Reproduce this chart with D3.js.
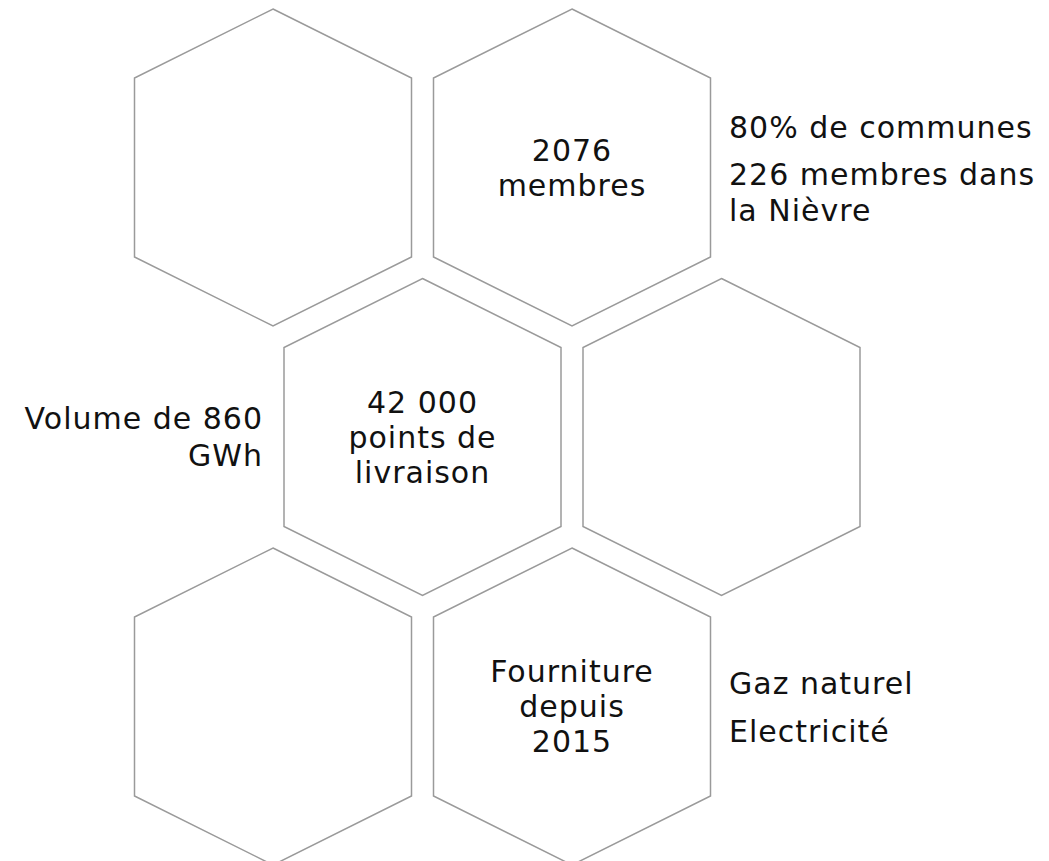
<!DOCTYPE html>
<html>
<head>
<meta charset="utf-8">
<script src="https://cdn.jsdelivr.net/npm/d3@7/dist/d3.min.js"></script>
<style>
  html, body { margin: 0; padding: 0; background: #ffffff; }
  svg { display: block; }
  text { font-family: "DejaVu Sans", Verdana, sans-serif; fill: #111111; }
</style>
</head>
<body>
<svg id="chart" width="1049" height="861"></svg>
<script>
// ---- data ----
const hexColumns = [0, 2, 1, 3, 0, 2];
const hexRows    = [0, 0, 1, 1, 2, 2];
const hexLabels  = [
  [],
  ["2076", "membres"],
  ["42 000", "points de", "livraison"],
  [],
  [],
  ["Fourniture", "depuis", "2015"]
];
const noteRows   = [0, 0, 1, 2, 2];
const noteSides  = ["right", "right", "left", "right", "right"];
const noteLines  = [
  ["80% de communes"],
  ["226 membres dans", "la Nièvre"],
  ["Volume de 860", "GWh"],
  ["Gaz naturel"],
  ["Electricité"]
];

// ---- layout ----
const svg = d3.select("#chart");
const x = d3.scaleLinear().domain([0, 3]).range([273, 721.5]);
const y = d3.scaleLinear().domain([0, 2]).range([167.5, 706.5]);

const halfW = 138.5;   // half width of a hexagon
const halfH = 158.5;   // half height (vertex to centre)
const shoulder = 89.5; // centre to side-vertex vertical offset

function hexPoints(cx, cy) {
  return [
    [cx, cy - halfH],
    [cx + halfW, cy - shoulder],
    [cx + halfW, cy + shoulder],
    [cx, cy + halfH],
    [cx - halfW, cy + shoulder],
    [cx - halfW, cy - shoulder]
  ];
}
const line = d3.line().curve(d3.curveLinearClosed);

const hexData = hexColumns.map((c, i) => ({ col: c, row: hexRows[i], label: hexLabels[i] }));

const g = svg.append("g");
g.selectAll("path.hex")
  .data(hexData)
  .join("path")
  .attr("class", "hex")
  .attr("d", d => line(hexPoints(x(d.col), y(d.row))))
  .attr("fill", "none")
  .attr("stroke", "#9a9a9a")
  .attr("stroke-width", 1.5)
  .attr("stroke-linejoin", "miter");

const fontSize = 30;
const spacing = "1px";
const lh = 35;
const capHalf = 10.5;

g.selectAll("text.hexlabel")
  .data(hexData.filter(d => d.label.length))
  .join("text")
  .attr("class", "hexlabel")
  .attr("text-anchor", "middle")
  .style("font-size", fontSize + "px")
  .style("letter-spacing", spacing)
  .each(function(d) {
    const n = d.label.length;
    const cx = x(d.col);
    const first = y(d.row) - (n - 1) * lh / 2 + capHalf;
    d3.select(this).selectAll("tspan")
      .data(d.label)
      .join("tspan")
      .attr("x", cx)
      .attr("y", (t, i) => first + i * lh)
      .text(t => t);
  });

// side notes: first-line baseline offsets relative to the row centre
const noteOffsets = { 0: [-29.5, 17.5], 1: [-8.5], 2: [-12.5, 35] };
const notesByRow = {};
noteLines.forEach((lines, i) => {
  const r = noteRows[i];
  notesByRow[r] = notesByRow[r] || [];
  notesByRow[r].push({ lines, side: noteSides[i] });
});

Object.keys(notesByRow).forEach(r => {
  const offs = noteOffsets[r];
  notesByRow[r].forEach((note, k) => {
    const base = y(+r) + offs[k];
    const left = note.side === "left";
    const t = g.append("text")
      .attr("text-anchor", left ? "end" : "start")
      .style("font-size", fontSize + "px")
      .style("letter-spacing", spacing);
    const nx = left ? 263 : 729;
    t.selectAll("tspan")
      .data(note.lines)
      .join("tspan")
      .attr("x", nx)
      .attr("y", (s, i) => base + i * (left ? 37 : 35.5))
      .text(s => s);
  });
});
</script>
</body>
</html>
